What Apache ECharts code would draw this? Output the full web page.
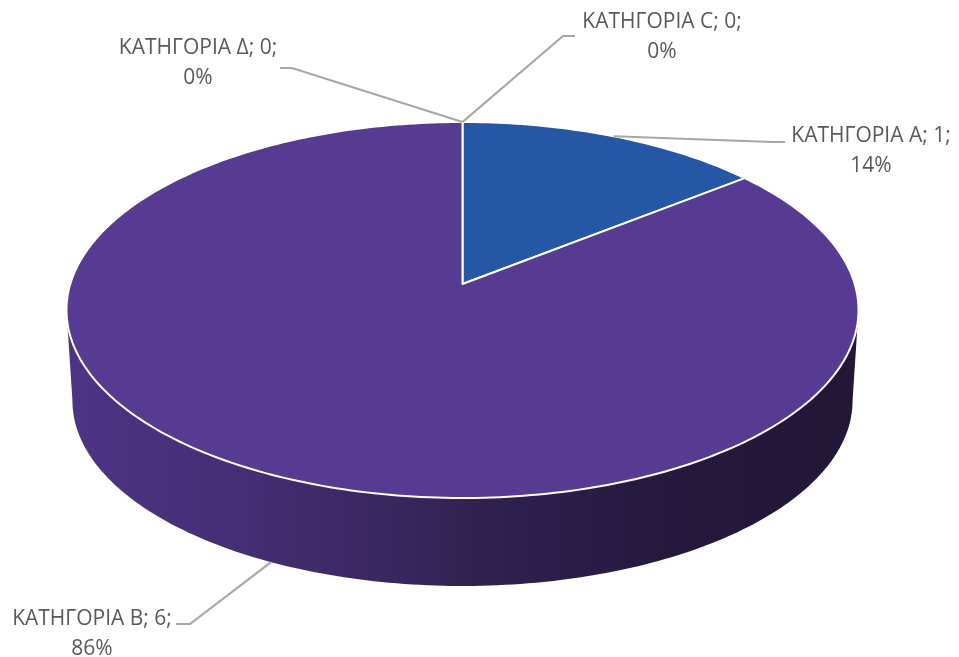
<!DOCTYPE html>
<html>
<head>
<meta charset="utf-8">
<style>html,body{margin:0;padding:0;background:#fff}#c{width:959px;height:657px}</style>
<script src="https://cdn.jsdelivr.net/npm/echarts@6/dist/echarts.min.js"></script>
</head>
<body>
<div id="c"></div>
<script>
const categories = ['ΚΑΤΗΓΟΡΙΑ Α', 'ΚΑΤΗΓΟΡΙΑ Β', 'ΚΑΤΗΓΟΡΙΑ C', 'ΚΑΤΗΓΟΡΙΑ Δ'];
const values = [1, 6, 0, 0];
const sliceColors = ['#2557a4', '#573a92', '#7f7f7f', '#3f6fb5'];
// Label layout: [elbow x, elbow y, end x, end y, text centre x, first-line y]
const labelLayout = [
  [772, 142, 785, 142, 871, 136],
  [190, 624, 176, 624, 92, 619],
  [563, 36, 575, 36, 662, 22],
  [292, 68, 280, 68, 198, 48]
];

// Perspective view of the pie disc
const CX = 462.5, CY = 284, K = 0.1383, A = 184.4, B = 392.2;
const WALL_SCALE = 0.985, WALL_DROP = 91.2;
const DEG = Math.PI / 180;
const total = values.reduce((a, b) => a + b, 0);

function rimTop(theta) {
  const u = Math.sin(theta * DEG), v = -Math.cos(theta * DEG), d = 1 - K * v;
  return [CX + B * u / d, CY + A * v / d];
}
function rimBottom(theta) {
  const p = rimTop(theta);
  return [CX + (p[0] - CX) * WALL_SCALE, CY + (p[1] - CY) * WALL_SCALE + WALL_DROP];
}
function arc(fn, a, b) {
  const pts = [], n = Math.max(1, Math.ceil(Math.abs(b - a)));
  for (let i = 0; i <= n; i++) pts.push(fn(a + (b - a) * i / n));
  return pts;
}
// front of the disc: between the two widest points of the rim
const frontFrom = 90 + Math.asin(K) / DEG, frontTo = 270 - Math.asin(K) / DEG;
const wallGradient = new echarts.graphic.LinearGradient(67, 0, 858, 0, [
  { offset: 0, color: '#4d3485' },
  { offset: 0.22, color: '#452e74' },
  { offset: 0.42, color: '#38265f' },
  { offset: 0.52, color: '#30224f' },
  { offset: 0.62, color: '#2a1d49' },
  { offset: 0.78, color: '#24183c' },
  { offset: 1, color: '#221736' }
], true);

function renderItem(params, api) {
  const i = params.dataIndex, value = api.value(1);
  const before = values.slice(0, i).reduce((a, b) => a + b, 0);
  const start = before / total * 360, end = (before + value) / total * 360;
  const mid = (start + end) / 2;
  const children = [];
  const wa = Math.max(start, frontFrom), wb = Math.min(end, frontTo);
  if (wb > wa) {
    const pts = arc(rimTop, wa, wb).concat(arc(rimBottom, wb, wa));
    children.push({ type: 'polygon', z2: 1, shape: { points: pts }, style: { fill: wallGradient } });
  }
  if (value > 0) {
    const pts = [[CX, CY]].concat(arc(rimTop, start, end));
    children.push({ type: 'polygon', z2: 2, shape: { points: pts },
      style: { fill: sliceColors[i], stroke: '#fff', lineWidth: 2, lineJoin: 'round' } });
  }
  const L = labelLayout[i];
  const anchor = (mid > frontFrom && mid < frontTo) ? rimBottom(mid) : rimTop(mid);
  children.push({ type: 'polyline', z2: 3,
    shape: { points: [anchor, [L[0], L[1]], [L[2], L[3]]] },
    style: { fill: null, stroke: '#a6a6a6', lineWidth: 2.2 } });
  const pct = Math.round(value / total * 100) + '%';
  children.push({ type: 'text', z2: 4, x: L[4], y: L[5],
    style: { text: categories[i] + '; ' + value + ';', fill: '#595959',
      font: '21px "Open Sans", sans-serif', align: 'center', verticalAlign: 'middle' } });
  children.push({ type: 'text', z2: 4, x: L[4], y: L[5] + 30,
    style: { text: pct, fill: '#595959',
      font: '21px "Open Sans", sans-serif', align: 'center', verticalAlign: 'middle' } });
  return { type: 'group', children };
}

const chart = echarts.init(document.getElementById('c'), null, { width: 959, height: 657 });
chart.setOption({
  animation: false,
  backgroundColor: '#fff',
  series: [{
    type: 'custom',
    coordinateSystem: 'none',
    renderItem,
    silent: true,
    clip: false,
    data: values.map((v, i) => [i, v])
  }]
});
</script>
</body>
</html>
